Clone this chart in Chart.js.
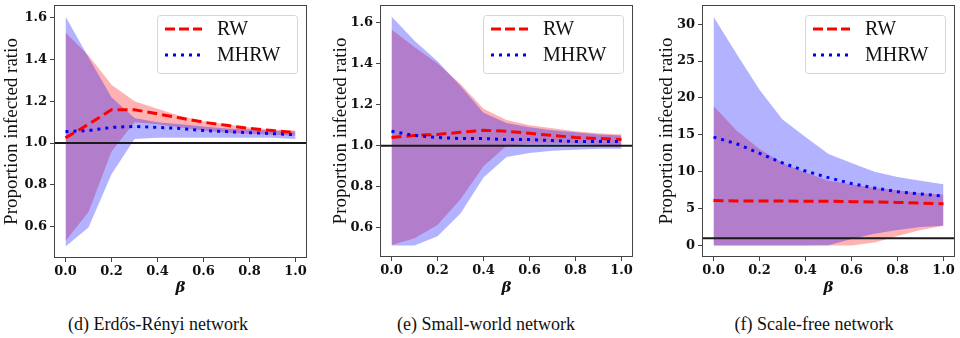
<!DOCTYPE html>
<html>
<head>
<meta charset="utf-8">
<script src="https://cdn.jsdelivr.net/npm/chart.js@4"></script>
<style>
  body { margin: 0; background: #fff; width: 960px; height: 338px; position: relative; overflow: hidden; }
  .panel { position: absolute; top: 0; width: 320px; height: 300px; }
  .caption {
    position: absolute; top: 313px; width: 300px; text-align: center;
    font-family: "Times New Roman", "Liberation Serif", "DejaVu Serif", serif;
    font-size: 18px; color: #111; line-height: 22px;
  }
</style>
</head>
<body>
<canvas id="chartER" class="panel" style="left:0" width="320" height="300"></canvas>
<canvas id="chartSW" class="panel" style="left:320px" width="320" height="300"></canvas>
<canvas id="chartSF" class="panel" style="left:640px" width="320" height="300"></canvas>
<div class="caption" style="left:8px">(d) Erdős-Rényi network</div>
<div class="caption" style="left:336px">(e) Small-world network</div>
<div class="caption" style="left:664px">(f) Scale-free network</div>

<script>
// x values (beta) and tick labels
const betas = [0, 0.1, 0.2, 0.3, 0.4, 0.5, 0.6, 0.7, 0.8, 0.9, 1.0];
const xTicks = [0, 0.2, 0.4, 0.6, 0.8, 1.0];
const ratioTicks = [0.6, 0.8, 1.0, 1.2, 1.4, 1.6];
const sfTicks = [0, 5, 10, 15, 20, 25, 30];
const refLevel = 1;
const seriesNames = ['RW', 'MHRW'];

// (d) Erdos-Renyi
const erRwMean  = [1.025, 1.09, 1.16, 1.16, 1.14, 1.12, 1.10, 1.085, 1.07, 1.06, 1.05];
const erRwUpper = [1.53, 1.42, 1.28, 1.20, 1.165, 1.13, 1.105, 1.09, 1.075, 1.065, 1.06];
const erRwLower = [0.53, 0.67, 0.96, 1.10, 1.09, 1.075, 1.06, 1.05, 1.045, 1.04, 1.035];
const erMhMean  = [1.055, 1.06, 1.075, 1.08, 1.075, 1.07, 1.06, 1.055, 1.05, 1.045, 1.04];
const erMhUpper = [1.607, 1.41, 1.22, 1.12, 1.10, 1.09, 1.08, 1.07, 1.065, 1.06, 1.055];
const erMhLower = [0.504, 0.595, 0.85, 1.02, 1.025, 1.025, 1.025, 1.025, 1.025, 1.025, 1.02];

// (e) Small-world
const swRwMean  = [1.04, 1.05, 1.055, 1.065, 1.075, 1.07, 1.06, 1.05, 1.04, 1.035, 1.03];
const swRwUpper = [1.565, 1.48, 1.40, 1.30, 1.18, 1.125, 1.10, 1.085, 1.07, 1.06, 1.055];
const swRwLower = [0.517, 0.55, 0.615, 0.74, 0.90, 1.00, 1.01, 1.01, 1.01, 1.005, 1.0];
const swMhMean  = [1.07, 1.05, 1.04, 1.035, 1.035, 1.03, 1.03, 1.025, 1.02, 1.02, 1.02];
const swMhUpper = [1.628, 1.51, 1.41, 1.29, 1.16, 1.11, 1.09, 1.075, 1.065, 1.055, 1.05];
const swMhLower = [0.515, 0.515, 0.56, 0.67, 0.845, 0.945, 0.965, 0.975, 0.98, 0.985, 0.985];

// (f) Scale-free
const sfRwMean  = [6.1, 6.05, 6.05, 6.05, 6.0, 6.0, 5.95, 5.9, 5.85, 5.75, 5.65];
const sfRwUpper = [18.9, 15.6, 13.1, 11.2, 9.9, 8.8, 8.3, 7.8, 7.5, 7.1, 6.9];
const sfRwLower = [0, 0, 0, 0, 0, 0, 0, 0.4, 1.3, 2.1, 2.7];
const sfMhMean  = [14.7, 13.8, 12.5, 11.2, 10.1, 9.2, 8.4, 7.8, 7.3, 7.0, 6.7];
const sfMhUpper = [31.0, 26.0, 21.1, 17.1, 14.7, 12.4, 11.2, 10.0, 9.3, 8.8, 8.3];
const sfMhLower = [0, 0, 0, 0, 0, 0.05, 0.9, 1.6, 2.1, 2.5, 2.7];

const RED = 'rgb(255,0,0)';
const BLUE = 'rgb(0,0,255)';
const RED_DASH = [10, 5];
const BLUE_DOT = [3, 5];

const pts = (arr) => betas.map((b, i) => ({ x: b, y: arr[i] }));

// frame, reference line and legend (matplotlib look)
const decorPlugin = {
  id: 'decor',
  afterDatasetsDraw(chart) {
    const { ctx, chartArea: a, scales: { y } } = chart;
    const py = y.getPixelForValue(refLevel);
    ctx.save();
    ctx.strokeStyle = '#1a1a1a';
    ctx.lineWidth = 2;
    ctx.beginPath();
    ctx.moveTo(a.left, py);
    ctx.lineTo(a.right, py);
    ctx.stroke();
    ctx.restore();
  },
  afterDraw(chart) {
    const { ctx, chartArea: a } = chart;
    ctx.save();
    // axes frame
    ctx.strokeStyle = '#444';
    ctx.lineWidth = 1;
    ctx.strokeRect(a.left + 0.5, a.top + 0.5, a.right - a.left - 1, a.bottom - a.top - 1);

    // legend box
    const w = 140, h = 58;
    const x0 = a.right - 10 - w, y0 = a.top + 10;
    ctx.beginPath();
    ctx.roundRect(x0 + 0.5, y0 + 0.5, w, h, 3);
    ctx.fillStyle = 'rgba(255,255,255,0.85)';
    ctx.fill();
    ctx.strokeStyle = '#d6d6d6';
    ctx.stroke();

    const rows = [
      { y: y0 + 14, color: RED, dash: [10, 4] },
      { y: y0 + 40, color: BLUE, dash: BLUE_DOT }
    ];
    rows.forEach((r, i) => {
      ctx.beginPath();
      ctx.setLineDash(r.dash);
      ctx.lineWidth = 3;
      ctx.strokeStyle = r.color;
      ctx.lineCap = 'butt';
      ctx.moveTo(x0 + 8, r.y);
      ctx.lineTo(x0 + 45, r.y);
      ctx.stroke();
      ctx.setLineDash([]);
      ctx.fillStyle = '#111';
      ctx.font = '20px "Liberation Serif"';
      ctx.textBaseline = 'middle';
      ctx.fillText(seriesNames[i], x0 + 60, r.y + 1);
    });
    ctx.restore();
  }
};

function makeChart(id, rw, mh, opts) {
  const tickFont = { family: '"DejaVu Serif"', weight: 'bold', size: 13 };
  const datasets = [
    { data: pts(rw.upper), fill: '+1', backgroundColor: 'rgba(255,0,0,0.3)', borderWidth: 0, pointRadius: 0, order: 5 },
    { data: pts(rw.lower), fill: false, borderWidth: 0, pointRadius: 0, order: 4 },
    { data: pts(mh.upper), fill: '+1', backgroundColor: 'rgba(0,0,255,0.3)', borderWidth: 0, pointRadius: 0, order: 3 },
    { data: pts(mh.lower), fill: false, borderWidth: 0, pointRadius: 0, order: 2 },
    { label: seriesNames[0], data: pts(rw.mean), borderColor: RED, borderWidth: 3, borderDash: RED_DASH,
      borderCapStyle: 'butt', fill: false, pointRadius: 0, order: 1 },
    { label: seriesNames[1], data: pts(mh.mean), borderColor: BLUE, borderWidth: 3, borderDash: BLUE_DOT,
      borderCapStyle: 'butt', fill: false, pointRadius: 0, order: 0 }
  ];

  return new Chart(document.getElementById(id), {
    type: 'line',
    data: { datasets },
    options: {
      responsive: false,
      animation: false,
      devicePixelRatio: 1,
      elements: { line: { tension: 0 } },
      layout: { padding: { left: opts.padLeft, right: opts.padRight, top: 5, bottom: 0 } },
      plugins: { legend: { display: false }, tooltip: { enabled: false } },
      scales: {
        x: {
          type: 'linear',
          min: -0.05,
          max: 1.05,
          afterBuildTicks: (s) => { s.ticks = xTicks.map((v) => ({ value: v })); },
          afterFit: (s) => { s.height = opts.xHeight; s.paddingLeft = 0; s.paddingRight = 0; },
          ticks: { font: tickFont, color: '#111', padding: 2, maxRotation: 0, autoSkip: false,
                   callback: (v) => Number(v).toFixed(1) },
          grid: { drawOnChartArea: false, drawTicks: true, tickLength: 4, color: '#444' },
          border: { display: false },
          title: { display: true, text: 'β', color: '#111',
                   font: { family: '"DejaVu Serif"', style: 'italic', weight: 'bold', size: 15 },
                   padding: { top: 0, bottom: 3 } }
        },
        y: {
          type: 'linear',
          min: opts.yMin,
          max: opts.yMax,
          afterBuildTicks: (s) => { s.ticks = opts.yTicks.map((v) => ({ value: v })); },
          afterFit: (s) => { s.width = opts.yWidth; s.paddingTop = 0; s.paddingBottom = 0; },
          ticks: { font: tickFont, color: '#111', padding: 3, autoSkip: false, callback: opts.yFormat },
          grid: { drawOnChartArea: false, drawTicks: true, tickLength: 4, color: '#444' },
          border: { display: false },
          title: { display: true, text: 'Proportion infected ratio', color: '#111',
                   font: { family: '"Liberation Serif"', size: 19 },
                   padding: { top: 1, bottom: 0 } }
        }
      }
    },
    plugins: [decorPlugin]
  });
}

const oneDecimal = (v) => Number(v).toFixed(1);
const integer = (v) => String(Math.round(v));

makeChart('chartER',
  { mean: erRwMean, upper: erRwUpper, lower: erRwLower },
  { mean: erMhMean, upper: erMhUpper, lower: erMhLower },
  { yMin: 0.449, yMax: 1.662, yTicks: ratioTicks, yFormat: oneDecimal,
    padLeft: 0, padRight: 13, yWidth: 54, xHeight: 42 });

makeChart('chartSW',
  { mean: swRwMean, upper: swRwUpper, lower: swRwLower },
  { mean: swMhMean, upper: swMhUpper, lower: swMhLower },
  { yMin: 0.459, yMax: 1.684, yTicks: ratioTicks, yFormat: oneDecimal,
    padLeft: 9, padRight: 7, yWidth: 51, xHeight: 43 });

makeChart('chartSF',
  { mean: sfRwMean, upper: sfRwUpper, lower: sfRwLower },
  { mean: sfMhMean, upper: sfMhUpper, lower: sfMhLower },
  { yMin: -1.55, yMax: 32.6, yTicks: sfTicks, yFormat: integer,
    padLeft: 15, padRight: 5, yWidth: 47, xHeight: 43 });
</script>
</body>
</html>
